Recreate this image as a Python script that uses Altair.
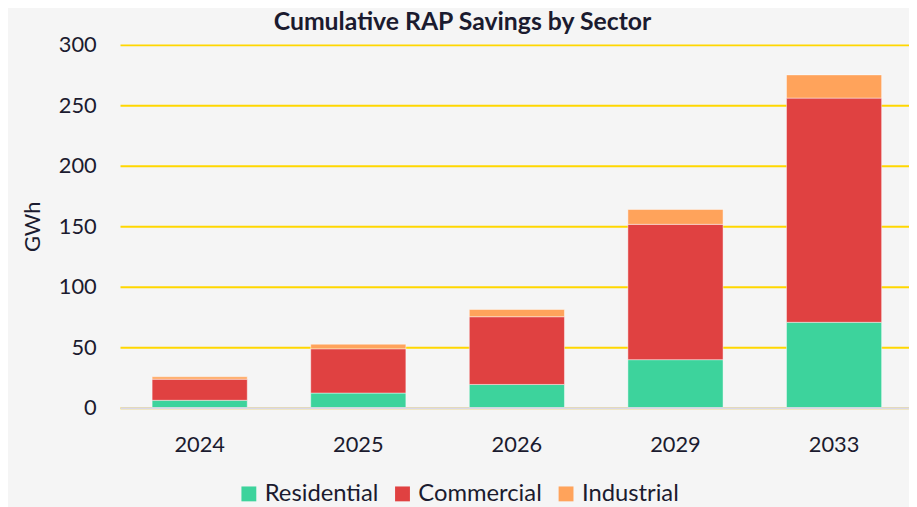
import altair as alt
import pandas as pd

years = ["2024", "2025", "2026", "2029", "2033"]
sectors = ["Residential", "Commercial", "Industrial"]
residential = [6.1, 12.1, 19.2, 39.7, 70.6]
commercial = [17.5, 36.6, 56.0, 111.9, 185.4]
industrial = [1.9, 3.8, 6.0, 12.3, 19.2]
colors = ["#3DD39C", "#E04141", "#FFA35B"]
y_ticks = [0, 50, 100, 150, 200, 250, 300]
title_text = "Cumulative RAP Savings by Sector"

rows = []
for i, yr in enumerate(years):
    for k, (sec, vals) in enumerate(zip(sectors, [residential, commercial, industrial])):
        rows.append({"year": yr, "sector": sec, "value": vals[i], "order": k})
df = pd.DataFrame(rows)

FONT = "Lato"
TXT = "#1b1b2f"

bars = alt.Chart(df).mark_bar(
    stroke="white", strokeOpacity=0.45, strokeWidth=1
).encode(
    x=alt.X("year:N", sort=years,
            scale=alt.Scale(paddingInner=0.4, paddingOuter=0.1875, align=0.54),
            axis=alt.Axis(title=None, labelAngle=0, labelFontSize=22, labelFont=FONT,
                          labelColor=TXT, ticks=False, tickSize=0, labelPadding=44,
                          labelBaseline="alphabetic", domainColor="#D9D7E9",
                          domainWidth=2, zindex=1, grid=False)),
    y=alt.Y("value:Q", stack="zero",
            scale=alt.Scale(domain=[0, 300]),
            axis=alt.Axis(values=y_ticks, title="GWh", titleFont=FONT, titleFontSize=22,
                          titleFontWeight="normal", titleColor=TXT, titleAngle=270,
                          titleX=-88, titleY=183, titleAlign="center",
                          titleBaseline="middle",
                          labelFontSize=22, labelFont=FONT, labelColor=TXT,
                          ticks=False, tickSize=0, labelPadding=24, domain=False,
                          grid=True, gridColor="#FFD700", gridWidth=2)),
    color=alt.Color("sector:N", sort=sectors,
                    scale=alt.Scale(domain=sectors, range=colors),
                    legend=alt.Legend(title=None, orient="none", direction="horizontal",
                                      legendX=118, legendY=441, symbolType="square",
                                      symbolSize=225, symbolStrokeWidth=0,
                                      labelFontSize=24, labelFont=FONT, labelColor=TXT,
                                      labelOffset=4, columnPadding=12, padding=0,
                                      columns=3)),
    order=alt.Order("order:Q"),
)

title = alt.Chart(pd.DataFrame({"t": [title_text]})).mark_text(
    font=FONT, fontSize=25, fontWeight="bold", color=TXT,
    align="center", baseline="alphabetic"
).encode(
    text="t:N",
    x=alt.value(345.5),
    y=alt.value(-15.5),
)

chart = alt.layer(bars, title).properties(
    width=796,
    height=366,
    autosize=alt.AutoSizeParams(type="none"),
    padding={"left": 113, "top": 35, "right": 0, "bottom": 98},
    background="#F5F5F5",
).configure_view(stroke=None)

chart.save("out.html", embed_options={"renderer": "svg", "actions": False})
